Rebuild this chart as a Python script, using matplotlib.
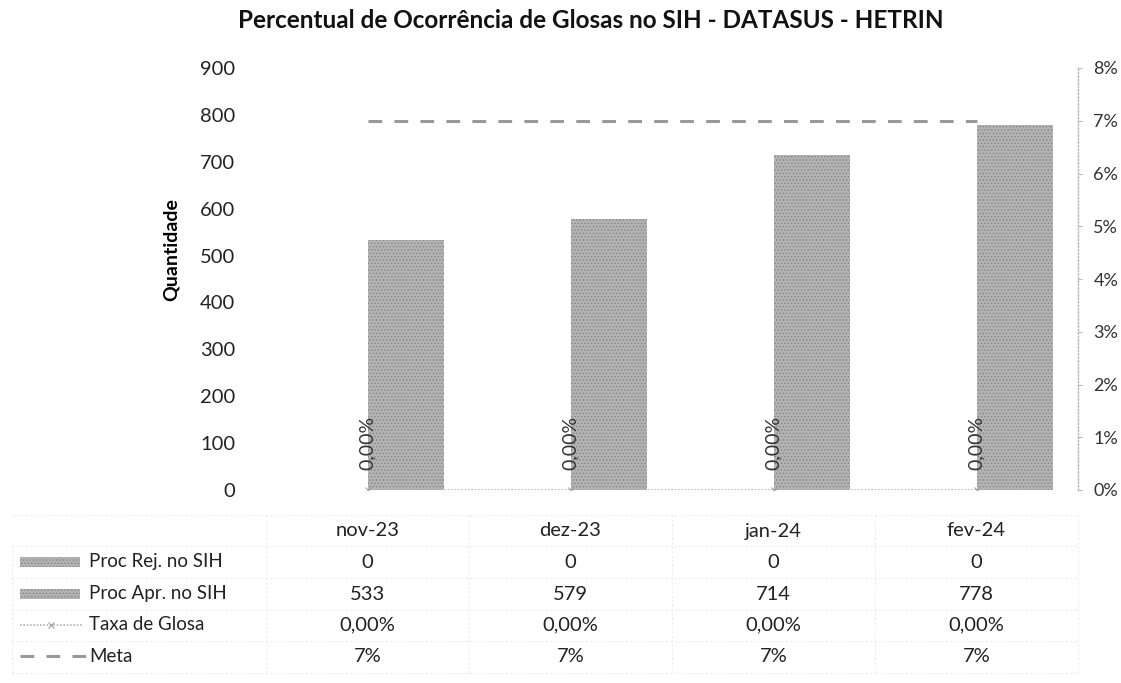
import matplotlib
matplotlib.use("Agg")
import matplotlib.pyplot as plt
import matplotlib.transforms as mtransforms
from matplotlib.lines import Line2D
from matplotlib.patches import Rectangle
import numpy as np

plt.rcParams['font.family'] = ['Lato', 'DejaVu Sans']
plt.rcParams['hatch.linewidth'] = 0.6

# data
meses = ['nov-23', 'dez-23', 'jan-24', 'fev-24']
proc_rej = [0, 0, 0, 0]
proc_apr = [533, 579, 714, 778]
taxa_glosa = [0.0, 0.0, 0.0, 0.0]
meta = [0.07, 0.07, 0.07, 0.07]
taxa_txt = ['0,00%', '0,00%', '0,00%', '0,00%']
meta_txt = ['7%', '7%', '7%', '7%']

W, H = 1121, 683
fig = plt.figure(figsize=(W / 100, H / 100), dpi=100)
ax = fig.add_axes([266 / W, 1 - 490 / H, (1078 - 266) / W, (490 - 68) / H])
ax2 = ax.twinx()

x = np.arange(len(meses))
bw = 0.375
bar_fc = '#b3b3b3'
bar_ec = '#858585'
ax.bar(x - bw / 2, proc_rej, bw, color=bar_fc, edgecolor=bar_ec, hatch='.....', lw=0)
ax.bar(x + bw / 2, proc_apr, bw, color=bar_fc, edgecolor=bar_ec, hatch='.....', lw=0)
ax.set_xlim(-0.5, len(meses) - 0.5)
ax.set_ylim(0, 900)
ax.set_yticks(range(0, 901, 100))
ax.tick_params(axis='y', length=0, pad=22, labelsize=14.5, labelcolor='#222222')
ax.set_xticks([])
for s in ax.spines.values():
    s.set_visible(False)
ax.set_ylabel('Quantidade', fontsize=14, fontweight='bold')
ax.yaxis.set_label_coords(-0.106, 0.57)

# right axis: taxa e meta
meta_ls = (0, (4.5, 4))
ax2.plot(x, taxa_glosa, color='#b0b0b0', lw=1.2, ls=(0, (1, 1)), marker='x',
         markersize=5, markeredgecolor='#a0a0a0', markeredgewidth=0.8)
ax2.plot(x, meta, color='#999999', lw=2.2, ls=meta_ls)
for xi, yi, t in zip(x, taxa_glosa, taxa_txt):
    ax2.annotate(t, (xi, yi), xytext=(0, 20), textcoords='offset pixels',
                 rotation=90, ha='center', va='bottom', fontsize=14, color='#333333')
ax2.set_ylim(0, 0.08)
ax2.set_yticks(np.arange(0, 0.081, 0.01))
ax2.set_yticklabels([f'{int(round(v * 100))}%' for v in np.arange(0, 0.081, 0.01)])
ax2.tick_params(axis='y', length=3, color='#bbbbbb', pad=8, labelsize=13, labelcolor='#333333')
for k, s in ax2.spines.items():
    s.set_visible(k == 'right')
ax2.spines['right'].set_color('#b5b5b5')
ax2.spines['right'].set_linestyle((0, (1, 1.5)))
ax2.spines['right'].set_linewidth(1)

fig.text(591 / W, 1 - 20 / H, 'Percentual de Ocorrência de Glosas no SIH - DATASUS - HETRIN',
         ha='center', va='center', fontsize=17.5, fontweight='bold', color='#111111')

# data table below the plot
tr = mtransforms.blended_transform_factory(ax.transData, fig.transFigure)
row_y = [531, 562, 594, 625, 656]
rows = [meses, [str(v) for v in proc_rej], [str(v) for v in proc_apr], taxa_txt, meta_txt]
for ry, vals in zip(row_y, rows):
    for xi, v in zip(x, vals):
        fig.text(xi, 1 - ry / H, v, transform=tr, ha='center', va='center',
                 fontsize=14.5, color='#222222')

grid_c = '#ececec'
for gy in [515, 546, 578, 610, 641, 673]:
    fig.add_artist(Line2D([12 / W, 1078 / W], [1 - gy / H] * 2, color=grid_c, lw=0.8, ls=(0, (2, 2))))
for gx in [12, 266, 469, 672, 875, 1078]:
    top = 546 if gx == 12 else 515
    fig.add_artist(Line2D([gx / W] * 2, [1 - top / H, 1 - 673 / H], color=grid_c, lw=0.8, ls=(0, (2, 2))))

labels = ['Proc Rej. no SIH', 'Proc Apr. no SIH', 'Taxa de Glosa', 'Meta']
for ry, lab in zip(row_y[1:], labels):
    fig.text(89 / W, 1 - ry / H, lab, ha='left', va='center', fontsize=13.5, color='#222222')
for ry in row_y[1:3]:
    fig.add_artist(Rectangle((20 / W, 1 - (ry + 5) / H), 60 / W, 10 / H, transform=fig.transFigure,
                             facecolor=bar_fc, edgecolor=bar_ec, hatch='.....', lw=0))
fig.add_artist(Line2D([20 / W, 82 / W], [1 - row_y[3] / H] * 2, color='#b0b0b0', lw=1.2,
                      ls=(0, (1, 1))))
fig.add_artist(Line2D([51 / W], [1 - row_y[3] / H], marker='x', markersize=5,
                      markeredgecolor='#a0a0a0', markeredgewidth=0.8, ls='none'))
fig.add_artist(Line2D([20 / W, 86 / W], [1 - row_y[4] / H] * 2, color='#999999', lw=2.2,
                      ls=meta_ls))

fig.savefig('out.png', dpi=100)
